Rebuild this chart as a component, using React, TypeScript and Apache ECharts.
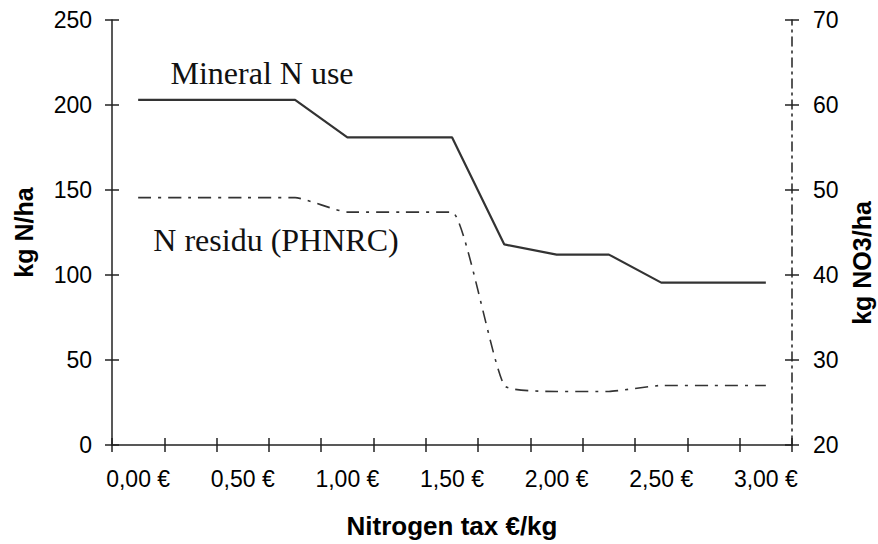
import React, { useEffect, useRef } from "react";
import * as echarts from "echarts";

const categories = [
  "0,00 €", "0,25 €", "0,50 €", "0,75 €", "1,00 €", "1,25 €", "1,50 €",
  "1,75 €", "2,00 €", "2,25 €", "2,50 €", "2,75 €", "3,00 €",
];
const mineralN = [203, 203, 203, 203, 181, 181, 181, 118, 112, 112, 95.5, 95.5, 95.5];
const nResidu = [49.1, 49.1, 49.1, 49.1, 47.4, 47.4, 47.4, 27.0, 26.3, 26.3, 27.0, 27.0, 27.0];

const leftTitle = "kg N/ha";
const rightTitle = "kg NO3/ha";
const xTitle = "Nitrogen tax €/kg";
const label1 = "Mineral N use";
const label2 = "N residu (PHNRC)";

const SANS = "'Liberation Sans', Arial, sans-serif";
const SERIF = "'Liberation Serif', 'Times New Roman', serif";
const INK = "#222";

export default function App() {
  const ref = useRef<HTMLDivElement>(null);
  useEffect(() => {
    if (!ref.current) return;
    const chart = echarts.init(ref.current, null, { renderer: "svg" });
    const labelStyle = { color: "#000", fontSize: 23, fontFamily: SANS };
    chart.setOption({
      animation: false,
      backgroundColor: "#fff",
      grid: { left: 112, right: 86, top: 20, bottom: 98, containLabel: false },
      xAxis: [
        {
          type: "category",
          data: categories,
          boundaryGap: true,
          position: "bottom",
          axisLine: { show: true, lineStyle: { color: INK, width: 1.5 } },
          axisTick: { show: true, inside: false, length: 7, interval: 0, lineStyle: { color: INK, width: 1.5 } },
          axisLabel: { ...labelStyle, interval: 1, margin: 22 },
          splitLine: { show: false },
          name: xTitle,
          nameLocation: "middle",
          nameGap: 68,
          nameTextStyle: { color: "#000", fontSize: 26, fontWeight: "bold", fontFamily: SANS },
        },
        {
          type: "category",
          data: categories,
          boundaryGap: true,
          position: "bottom",
          axisLine: { show: false },
          axisTick: { show: true, inside: true, length: 7, interval: 0, lineStyle: { color: INK, width: 1.5 } },
          axisLabel: { show: false },
          splitLine: { show: false },
        },
      ],
      yAxis: [
        {
          type: "value",
          position: "left",
          min: 0,
          max: 250,
          interval: 50,
          axisLine: { show: true, lineStyle: { color: INK, width: 1.5 } },
          axisTick: { show: true, inside: false, length: 7, lineStyle: { color: INK, width: 1.5 } },
          axisLabel: { ...labelStyle, margin: 20 },
          splitLine: { show: false },
          name: leftTitle,
          nameLocation: "middle",
          nameGap: 76,
          nameRotate: 90,
          nameTextStyle: { color: "#000", fontSize: 25, fontWeight: "bold", fontFamily: SANS },
        },
        {
          type: "value",
          position: "right",
          min: 20,
          max: 70,
          interval: 10,
          axisLine: { show: true, lineStyle: { color: INK, width: 1.5, type: [9, 5, 2, 5] } },
          axisTick: { show: true, inside: false, length: 7, lineStyle: { color: INK, width: 1.5 } },
          axisLabel: { ...labelStyle, margin: 21 },
          splitLine: { show: false },
        },
        {
          type: "value",
          position: "left",
          min: 0,
          max: 250,
          interval: 50,
          axisLine: { show: false },
          axisTick: { show: true, inside: true, length: 7, lineStyle: { color: INK, width: 1.5 } },
          axisLabel: { show: false },
          splitLine: { show: false },
        },
        {
          type: "value",
          position: "right",
          min: 20,
          max: 70,
          interval: 10,
          axisLine: { show: false },
          axisTick: { show: true, inside: true, length: 7, lineStyle: { color: INK, width: 1.5 } },
          axisLabel: { show: false },
          splitLine: { show: false },
        },
      ],
      series: [
        {
          name: label1,
          type: "line",
          xAxisIndex: 0,
          yAxisIndex: 0,
          data: mineralN,
          symbol: "none",
          lineStyle: { color: "#333", width: 2.2, type: "solid" },
        },
        {
          name: label2,
          type: "line",
          xAxisIndex: 0,
          yAxisIndex: 1,
          data: nResidu,
          symbol: "none",
          smooth: 0.15,
          lineStyle: { color: "#333", width: 1.6, type: [13, 7, 3, 7] },
        },
      ],
      graphic: [
        {
          type: "text",
          x: 262,
          y: 73,
          style: { text: label1, fill: "#111", font: `32px ${SERIF}`, textAlign: "center", textVerticalAlign: "middle" },
        },
        {
          type: "text",
          x: 276,
          y: 240,
          style: { text: label2, fill: "#111", font: `32px ${SERIF}`, textAlign: "center", textVerticalAlign: "middle" },
        },
        {
          type: "text",
          x: 862,
          y: 263,
          rotation: Math.PI / 2,
          style: { text: rightTitle, fill: "#000", font: `bold 25px ${SANS}`, textAlign: "center", textVerticalAlign: "middle" },
        },
      ],
    });
    return () => chart.dispose();
  }, []);
  return <div ref={ref} style={{ width: 878, height: 544, position: "absolute", left: 0, top: 0 }} />;
}
